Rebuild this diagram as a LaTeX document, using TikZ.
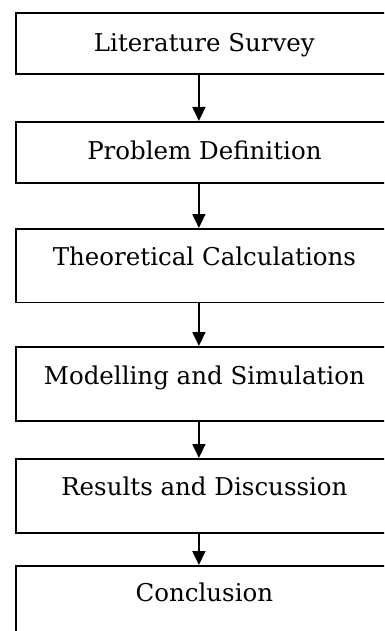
\documentclass[tikz,border=0pt]{standalone}
\usepackage{fontspec}
\setmainfont{DejaVu Serif}
\usetikzlibrary{arrows.meta}

\tikzset{
	stage/.style={draw, line width=1.8pt, anchor=north west, inner sep=0pt, minimum width=377pt, font=\fontsize{24.5}{28}\selectfont},
	flow/.style={line width=1.8pt, -{Triangle[length=14pt,width=13pt]}}
}

\begin{document}
\begin{tikzpicture}[x=1pt,y=-1pt]
		\useasboundingbox (0,0) rectangle (384,631);
		\clip (0,0) rectangle (384,631);
		
		\node at (15, 12) [stage, text height=38.5pt, text depth=22.5pt] (lit) {Literature Survey};
		\node at (15, 121) [stage, text height=38pt, text depth=23pt] (prob) {Problem Definition};
		\node at (15, 228) [stage, text height=37pt, text depth=36.5pt] (theo) {Theoretical Calculations};
		\node at (15, 346) [stage, text height=38pt, text depth=36pt] (model) {Modelling and Simulation};
		\node at (15, 458) [stage, text height=37pt, text depth=37pt] (res) {Results and Discussion};
		\node at (15, 565) [stage, text height=36pt, text depth=37pt] (concl) {Conclusion};
		
		\draw [flow] ([xshift=-5.5pt]lit.south) -- ([xshift=-5.5pt]prob.north);
		\draw [flow] ([xshift=-5.5pt]prob.south) -- ([xshift=-5.5pt]theo.north);
		\draw [flow] ([xshift=-5.5pt]theo.south) -- ([xshift=-5.5pt]model.north);
		\draw [flow] ([xshift=-5.5pt]model.south) -- ([xshift=-5.5pt]res.north);
		\draw [flow] ([xshift=-5.5pt]res.south) -- ([xshift=-5.5pt]concl.north);
\end{tikzpicture}
\end{document}
